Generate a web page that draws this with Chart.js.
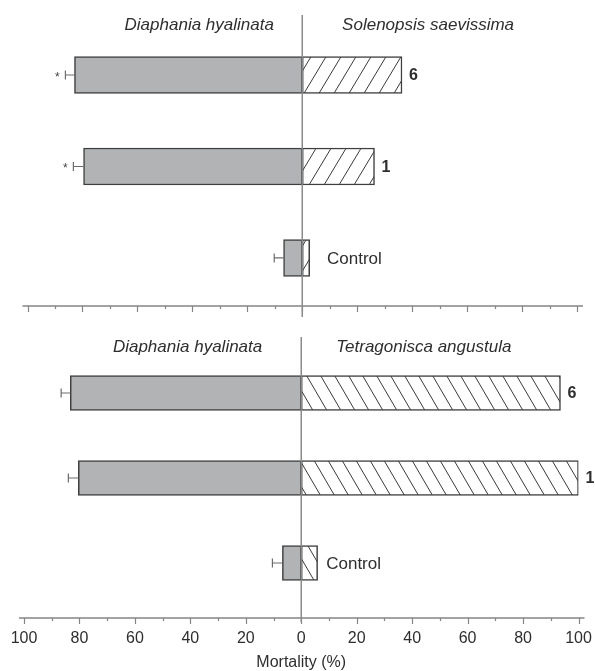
<!DOCTYPE html>
<html>
<head>
<meta charset="utf-8">
<script src="https://cdn.jsdelivr.net/npm/chart.js@4.4.1/dist/chart.umd.min.js"></script>
<style>
  html, body { margin: 0; padding: 0; background: #fff; }
  #wrap { position: relative; width: 595px; height: 671px; }
  .panel { position: absolute; left: 0; width: 595px; }
  #panelTop { top: 0; height: 330px; }
  #panelBottom { top: 330px; height: 341px; }
  canvas { display: block; }
</style>
</head>
<body>
<div id="wrap">
  <div class="panel" id="panelTop"><canvas id="chartTop" width="595" height="330"></canvas></div>
  <div class="panel" id="panelBottom"><canvas id="chartBottom" width="595" height="341"></canvas></div>
</div>
<script>
// Treatments (rows, top to bottom)
const rows = ['6', '1', 'Control'];

// Upper panel: Diaphania hyalinata vs Solenopsis saevissima (mortality %)
const hyalinataA = [82.9, 79.6, 6.8];
const hyalinataAErr = [3.3, 3.7, 3.4];
const solenopsis = [36.3, 26.3, 2.7];
const starsA = ['*', '*', ''];

// Lower panel: Diaphania hyalinata vs Tetragonisca angustula (mortality %)
const hyalinataB = [83.3, 80.4, 6.8];
const hyalinataBErr = [3.3, 3.6, 3.6];
const tetragonisca = [93.5, 100, 5.9];
const starsB = ['', '', ''];

// Species headings
const titlesA = ['Diaphania hyalinata', 'Solenopsis saevissima'];
const titlesB = ['Diaphania hyalinata', 'Tetragonisca angustula'];

// Axis
const axisMin = -100, axisMax = 100, tickStep = 10;
const axisTitle = 'Mortality (%)';

const FONT = "'Liberation Sans', Arial, Helvetica, sans-serif";
const TEXT = '#2e2e2e';
const GREY_FILL = '#b2b3b5';
const EDGE = '#3f3f3f';

// Diagonal line pattern for the open bars
function hatch(dir, spacing, rise) {
  const c = document.createElement('canvas');
  c.width = spacing; c.height = rise;
  const g = c.getContext('2d');
  g.fillStyle = '#fff';
  g.fillRect(0, 0, spacing, rise);
  g.strokeStyle = '#3a3a3a';
  g.lineWidth = 1;
  for (const off of [-spacing, 0, spacing]) {
    g.beginPath();
    if (dir === '/') { g.moveTo(off, rise); g.lineTo(off + spacing, 0); }
    else { g.moveTo(off, 0); g.lineTo(off + spacing, rise); }
    g.stroke();
  }
  return g.createPattern(c, 'repeat');
}

// Draws the zero line, axis line with ticks, error bars, asterisks, labels and headings
const panelDecor = {
  id: 'panelDecor',
  afterDatasetsDraw(chart, args, o) {
    const ctx = chart.ctx;
    const xs = chart.scales.x;
    const area = chart.chartArea;
    const x0 = xs.getPixelForValue(0);
    const leftBars = chart.getDatasetMeta(0).data;
    const rightBars = chart.getDatasetMeta(1).data;
    ctx.save();

    // axis line and tick marks
    const yAxis = area.bottom;
    ctx.strokeStyle = '#858585';
    ctx.lineWidth = 1.5;
    ctx.beginPath();
    ctx.moveTo(xs.getPixelForValue(axisMin) - 5, yAxis);
    ctx.lineTo(xs.getPixelForValue(axisMax) + 6, yAxis);
    ctx.stroke();
    ctx.lineWidth = 1.2;
    xs.ticks.forEach(t => {
      const px = Math.round(xs.getPixelForValue(t.value)) + 0.5;
      const len = (t.value % 20 === 0) ? 6 : 3;
      ctx.beginPath();
      ctx.moveTo(px, yAxis);
      ctx.lineTo(px, yAxis + len);
      ctx.stroke();
    });

    // vertical zero line
    ctx.strokeStyle = '#8a8a8a';
    ctx.lineWidth = 1.5;
    ctx.beginPath();
    ctx.moveTo(x0, area.top);
    ctx.lineTo(x0, area.bottom + o.zeroExtra);
    ctx.stroke();

    // error bars on the grey bars
    ctx.strokeStyle = '#6c6c6c';
    ctx.lineWidth = 1.2;
    leftBars.forEach((bar, i) => {
      const y = bar.y;
      const xEnd = xs.getPixelForValue(-(o.left[i] + o.err[i]));
      ctx.beginPath();
      ctx.moveTo(bar.x, y);
      ctx.lineTo(xEnd, y);
      ctx.moveTo(xEnd, y - 4.5);
      ctx.lineTo(xEnd, y + 4.5);
      ctx.stroke();
      if (o.stars[i]) {
        ctx.fillStyle = '#444';
        ctx.font = `12px ${FONT}`;
        ctx.textAlign = 'center';
        ctx.textBaseline = 'alphabetic';
        ctx.fillText(o.stars[i], xEnd - 8, y + 6);
      }
    });

    // treatment labels beside the open bars
    ctx.fillStyle = TEXT;
    ctx.textAlign = 'left';
    ctx.textBaseline = 'middle';
    rightBars.forEach((bar, i) => {
      const lbl = rows[i];
      const isNum = /^\d+$/.test(lbl);
      ctx.font = isNum ? `bold 16px ${FONT}` : `17px ${FONT}`;
      const px = Math.max(bar.x + 7, xs.getPixelForValue(9));
      ctx.fillText(lbl, px, bar.y + 1);
    });

    // species headings
    ctx.font = `italic 17px ${FONT}`;
    ctx.textAlign = 'center';
    ctx.fillText(o.titles[0], xs.getPixelForValue(o.titleAt[0]), area.top + 10);
    ctx.fillText(o.titles[1], xs.getPixelForValue(o.titleAt[1]), area.top + 10);
    ctx.restore();
  }
};

function makePanel(id, p) {
  return new Chart(document.getElementById(id), {
    type: 'bar',
    data: {
      datasets: [
        {
          data: p.left.map((v, i) => ({ x: -v, y: i })),
          backgroundColor: GREY_FILL,
          borderColor: EDGE,
          borderWidth: 1.5,
          borderSkipped: false,
          barThickness: p.thickness,
          grouped: false
        },
        {
          data: p.right.map((v, i) => ({ x: v, y: i })),
          backgroundColor: p.pattern,
          borderColor: EDGE,
          borderWidth: 1.5,
          borderSkipped: false,
          barThickness: p.thickness,
          grouped: false
        }
      ]
    },
    options: {
      indexAxis: 'y',
      responsive: false,
      animation: false,
      events: [],
      layout: { padding: p.padding },
      scales: {
        y: {
          type: 'linear', reverse: true, offset: false,
          min: p.yMin, max: p.yMax, display: false
        },
        x: {
          type: 'linear', min: axisMin, max: axisMax,
          ticks: {
            display: p.showLabels,
            stepSize: tickStep,
            autoSkip: false,
            maxRotation: 0,
            color: TEXT,
            padding: 5,
            font: { family: FONT, size: 16 },
            callback: v => (v % 20 === 0 ? String(Math.abs(v)) : '')
          },
          grid: { display: false, drawTicks: true, tickLength: 6 },
          border: { display: false },
          title: {
            display: p.showLabels, text: axisTitle, color: TEXT,
            font: { family: FONT, size: 16, lineHeight: 1 },
            padding: { top: 0, bottom: 0 }
          },
          afterFit: s => {
            s.height = p.axisHeight;
            s.paddingLeft = 0;
            s.paddingRight = 0;
          }
        }
      },
      plugins: {
        legend: { display: false },
        tooltip: { enabled: false },
        panelDecor: {
          left: p.left, err: p.err, stars: p.stars,
          titles: p.titles, titleAt: p.titleAt, zeroExtra: p.zeroExtra
        }
      }
    },
    plugins: [panelDecor]
  });
}

makePanel('chartTop', {
  left: hyalinataA, err: hyalinataAErr, right: solenopsis, stars: starsA,
  titles: titlesA, titleAt: [-37.5, 45.8],
  pattern: hatch('/', 15, 25),
  thickness: 37,
  padding: { left: 27.5, right: 18, top: 15, bottom: 0 },
  axisHeight: 24, showLabels: false,
  yMin: -0.656, yMax: 2.525, zeroExtra: 11
});

makePanel('chartBottom', {
  left: hyalinataB, err: hyalinataBErr, right: tetragonisca, stars: starsB,
  titles: titlesB, titleAt: [-41, 44.2],
  pattern: hatch('\\', 14, 24),
  thickness: 35,
  padding: { left: 24, right: 16.5, top: 7, bottom: 0 },
  axisHeight: 53, showLabels: true,
  yMin: -0.659, yMax: 2.647, zeroExtra: 4
});
</script>
</body>
</html>
